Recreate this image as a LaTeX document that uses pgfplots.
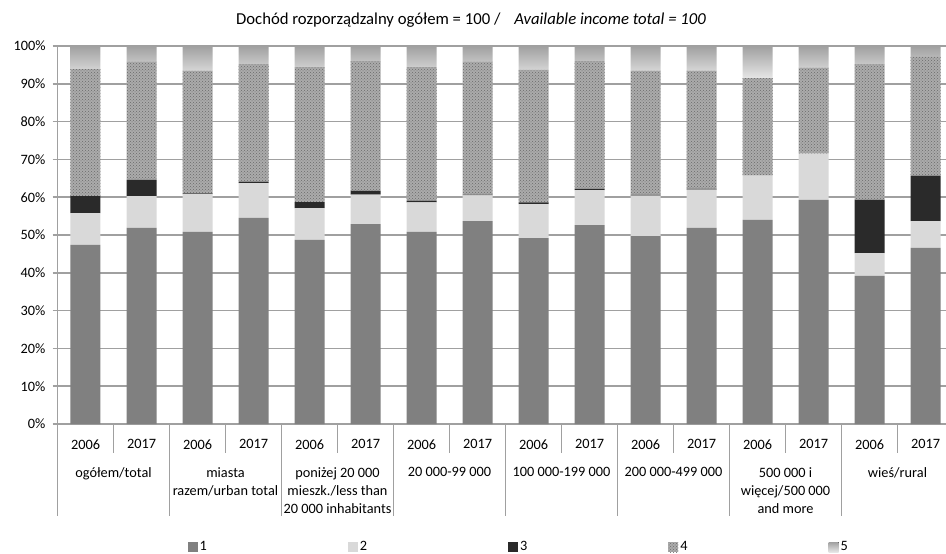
\documentclass[border=0pt]{standalone}
\usepackage{fontspec}
\setmainfont{Carlito}
\usepackage{pgfplots}
\usepackage{pgfplotstable}
\pgfplotsset{compat=1.18}
\usetikzlibrary{patterns}

\definecolor{c1}{HTML}{808080}
\definecolor{c2}{HTML}{D9D9D9}
\definecolor{c3}{HTML}{2A2A2A}
\definecolor{c4}{HTML}{ABABAB}
\definecolor{c4d}{HTML}{6A6A6A}
\definecolor{c5t}{HTML}{A0A0A0}
\definecolor{c5b}{HTML}{E6E6E6}
\definecolor{gridc}{HTML}{A0A0A0}

\newcommand\f{\fontsize{14.3}{18}\selectfont}

% shares of income, bars 0..15 (pairs 2006/2017 per group)
\pgfplotstableread{
x  s1   s2   s3   s4   s5
0  47.4 8.4  4.5  33.6 6.1
1  51.9 8.4  4.3  31.2 4.2
2  50.8 10.0 0.2  32.4 6.6
3  54.5 9.2  0.4  31.1 4.8
4  48.7 8.4  1.6  35.7 5.6
5  52.9 7.8  1.0  34.3 4.0
6  50.8 7.8  0.5  35.3 5.6
7  53.7 6.8  0.2  35.1 4.2
8  49.2 9.0  0.4  35.1 6.3
9  52.6 9.3  0.3  33.8 4.0
10 49.7 10.7 0.2  32.8 6.6
11 51.9 10.1 0.2  31.2 6.6
12 54.0 11.7 0.0  25.8 8.5
13 59.3 12.2 0.0  22.7 5.8
14 39.2 6.0  14.1 35.9 4.8
15 46.6 7.1  12.0 31.4 2.9
}\data

\begin{document}
\begin{tikzpicture}[font=\f]
\path[use as bounding box] (-57.5pt,-130pt) rectangle (888.5pt,424pt);
\begin{axis}[
  x=56pt, y=3.78pt,
  xmin=-0.5, xmax=15.37, ymin=0, ymax=100,
  ybar stacked, bar width=30pt,
  axis x line*=bottom, axis y line*=left,
  axis line style={gridc, line width=1.5pt},
  ymajorgrids, grid style={gridc, line width=1.5pt},
  tick align=outside, major tick length=5pt,
  ytick={0,10,...,100},
  ytick style={gridc, line width=1.5pt},
  /pgf/number format/assume math mode=true,
  yticklabel={\pgfmathprintnumber{\tick}\%},
  yticklabel style={xshift=-3.5pt},
  xtick={0,...,15},
  xticklabels={2006,2017,2006,2017,2006,2017,2006,2017,2006,2017,2006,2017,2006,2017,2006,2017},
  xtick style={draw=none},
  xticklabel style={yshift=-7pt},
  tick label style={font=\f},
  legend columns=5,
  legend style={at={(0.519,-0.3254)}, anchor=center, draw=none, fill=none, font=\f,
    /tikz/every even column/.append style={column sep=139pt}},
  sq/.style={legend image code/.code={\fill[##1] (0pt,-5pt) rectangle (10pt,5pt);}},
]
\addplot[fill=c1, draw=none, sq] table[x=x, y=s1] {\data};
\addplot[fill=c2, draw=none, sq] table[x=x, y=s2] {\data};
\addplot[fill=c3, draw=none, sq] table[x=x, y=s3] {\data};
\addplot[fill=c4, draw=none, postaction={pattern=crosshatch dots, pattern color=c4d}, sq] table[x=x, y=s4] {\data};
\addplot[top color=c5t, bottom color=c5b, draw=none, sq] table[x=x, y=s5] {\data};
\legend{1,2,3,4,5}
\end{axis}
% separators below the axis
\foreach \k in {0,...,7} {
  \draw[gridc, line width=1.5pt] ({56pt+112pt*\k},0) -- ++(0,-29pt);
}
\foreach \k in {0,...,8} {
  \draw[gridc, line width=1.5pt] ({112pt*\k},0) -- ++(0,-92pt);
}
\begin{scope}[every node/.style={anchor=north, inner sep=0pt, align=center, font=\f}]
\node at (56pt,-43pt) {ogółem/total};
\node at (168pt,-43pt) {miasta\\razem/urban total};
\node at (280pt,-43pt) {poniżej 20 000\\mieszk./less than\\20 000 inhabitants};
\node at (392pt,-43pt) {20 000-99 000};
\node at (504pt,-43pt) {100 000-199 000};
\node at (616pt,-43pt) {200 000-499 000};
\node at (728pt,-43pt) {500 000 i\\więcej/500 000\\and more};
\node at (840pt,-43pt) {wieś/rural};
\end{scope}
\node[font=\fontsize{16.7}{20}\selectfont] at (413.5pt,404pt) {Dochód rozporządzalny ogółem = 100 /\hspace{14pt}\textit{Available income total = 100}};
\end{tikzpicture}
\end{document}
